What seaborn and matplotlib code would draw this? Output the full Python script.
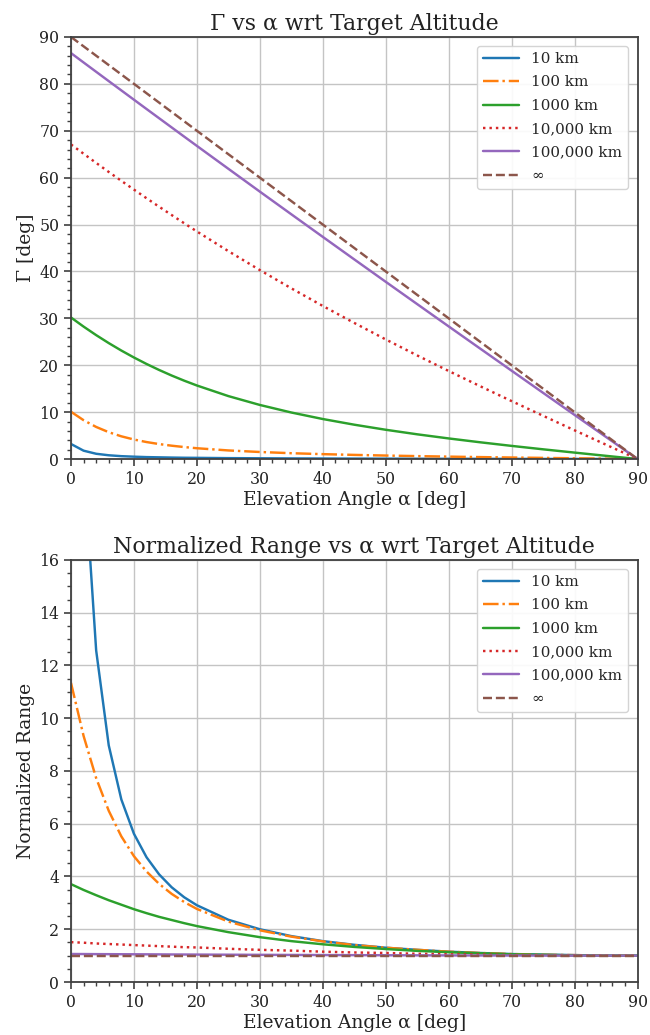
import matplotlib
matplotlib.use("Agg")
import matplotlib.pyplot as plt
from matplotlib.ticker import AutoMinorLocator, MultipleLocator
import seaborn as sns
import pandas as pd

# ---- data ----
alpha = [0, 2, 4, 6, 8, 10, 12, 14, 16, 18, 20, 25, 30, 35, 40, 45, 50, 55, 60,
         65, 70, 75, 80, 85, 90]

labels = ["10 km", "100 km", "1000 km", "10,000 km", "100,000 km", "\u221e"]

gamma_10 = [3.21, 1.78, 1.12, 0.80, 0.61, 0.50, 0.41, 0.36, 0.31, 0.27, 0.25, 0.19,
            0.16, 0.13, 0.11, 0.09, 0.08, 0.06, 0.05, 0.04, 0.03, 0.02, 0.02, 0.01, 0.0]
gamma_100 = [10.08, 8.28, 6.84, 5.72, 4.84, 4.16, 3.62, 3.19, 2.84, 2.55, 2.30, 1.83,
             1.50, 1.24, 1.04, 0.88, 0.74, 0.62, 0.51, 0.41, 0.32, 0.24, 0.16, 0.08, 0.0]
gamma_1000 = [30.18, 28.24, 26.42, 24.72, 23.13, 21.65, 20.27, 18.99, 17.80, 16.70,
              15.68, 13.42, 11.53, 9.92, 8.53, 7.32, 6.24, 5.27, 4.39, 3.57, 2.80,
              2.07, 1.37, 0.68, 0.0]
gamma_10000 = [67.08, 65.10, 63.14, 61.21, 59.32, 57.45, 55.61, 53.80, 52.02, 50.26,
               48.53, 44.33, 40.29, 36.40, 32.64, 29.02, 25.50, 22.09, 18.77, 15.53,
               12.35, 9.22, 6.12, 3.05, 0.0]
gamma_100000 = [86.56, 84.56, 82.57, 80.58, 78.60, 76.62, 74.64, 72.67, 70.70, 68.73,
                66.77, 61.89, 57.02, 52.19, 47.37, 42.57, 37.79, 33.03, 28.28, 23.55,
                18.83, 14.11, 9.40, 4.70, 0.0]
gamma_inf = [90, 88, 86, 84, 82, 80, 78, 76, 74, 72, 70, 65, 60, 55, 50, 45, 40, 35,
             30, 25, 20, 15, 10, 5, 0]

range_10 = [35.73, 19.84, 12.57, 8.97, 6.92, 5.62, 4.73, 4.08, 3.59, 3.21, 2.91, 2.36,
            2.00, 1.74, 1.55, 1.41, 1.30, 1.22, 1.15, 1.10, 1.06, 1.04, 1.02, 1.00, 1.0]
range_100 = [11.34, 9.33, 7.73, 6.49, 5.52, 4.77, 4.19, 3.72, 3.34, 3.03, 2.77, 2.29,
             1.96, 1.72, 1.54, 1.40, 1.30, 1.22, 1.15, 1.10, 1.06, 1.03, 1.02, 1.00, 1.0]
range_1000 = [3.71, 3.49, 3.29, 3.10, 2.93, 2.76, 2.61, 2.47, 2.35, 2.23, 2.12, 1.89,
              1.70, 1.55, 1.43, 1.33, 1.25, 1.18, 1.13, 1.09, 1.05, 1.03, 1.01, 1.00, 1.0]
range_10000 = [1.51, 1.49, 1.46, 1.44, 1.42, 1.40, 1.38, 1.36, 1.34, 1.32, 1.31, 1.26,
               1.22, 1.19, 1.15, 1.12, 1.10, 1.07, 1.05, 1.04, 1.02, 1.01, 1.01, 1.00, 1.0]
range_100000 = [1.062, 1.060, 1.057, 1.055, 1.053, 1.051, 1.049, 1.047, 1.044, 1.042,
                1.040, 1.035, 1.030, 1.026, 1.022, 1.018, 1.014, 1.011, 1.008, 1.006,
                1.004, 1.002, 1.001, 1.000, 1.0]
range_inf = [1.0, 1.0, 1.0, 1.0, 1.0, 1.0, 1.0, 1.0, 1.0, 1.0, 1.0, 1.0, 1.0, 1.0,
             1.0, 1.0, 1.0, 1.0, 1.0, 1.0, 1.0, 1.0, 1.0, 1.0, 1.0]

gamma_series = [gamma_10, gamma_100, gamma_1000, gamma_10000, gamma_100000, gamma_inf]
range_series = [range_10, range_100, range_1000, range_10000, range_100000, range_inf]

colors = ["#1f77b4", "#ff7f0e", "#2ca02c", "#d62728", "#9467bd", "#8c564b"]
styles = ["-", "-.", "-", ":", "-", "--"]

# ---- style ----
sns.set_style("ticks")
plt.rcParams["font.family"] = ["DejaVu Serif", "DejaVu Sans"]
plt.rcParams["mathtext.fontset"] = "dejavuserif"

fig = plt.figure(figsize=(6.5, 10.35), dpi=100)
ax1 = fig.add_axes([0.1092, 0.5565, 0.8716, 0.4078])
ax2 = fig.add_axes([0.1092, 0.0512, 0.8716, 0.4078])

spine_col = "#404040"


def style_axes(ax, ymax, ymajor, yminor_n, title, ylabel):
    ax.set_xlim(0, 90)
    ax.set_ylim(0, ymax)
    ax.xaxis.set_major_locator(MultipleLocator(10))
    ax.yaxis.set_major_locator(MultipleLocator(ymajor))
    ax.xaxis.set_minor_locator(AutoMinorLocator(5))
    ax.yaxis.set_minor_locator(AutoMinorLocator(yminor_n))
    ax.grid(True, which="major", color="#c4c4c4", linewidth=1.0)
    ax.set_axisbelow(True)
    for sp in ax.spines.values():
        sp.set_visible(True)
        sp.set_color(spine_col)
        sp.set_linewidth(1.3)
    ax.tick_params(which="major", direction="out", length=5, width=1.2,
                   color=spine_col, labelsize=11.3, labelcolor="#222222")
    ax.tick_params(which="minor", direction="out", length=3, width=1.0,
                   color=spine_col)
    ax.set_title(title, fontsize=15.8, color="#222222", pad=5)
    ax.set_xlabel("Elevation Angle \u03b1 [deg]", fontsize=13.5, color="#222222",
                  labelpad=2)
    ax.set_ylabel(ylabel, fontsize=13.5, color="#222222", labelpad=3)
    leg = ax.legend(loc="upper right", fontsize=10.9, handlelength=2.4,
                    labelspacing=0.62, frameon=True, fancybox=True,
                    borderaxespad=0.6)
    leg.get_frame().set_edgecolor("#d0d0d0")
    leg.get_frame().set_alpha(0.9)


for lab, ys, c, ls in zip(labels, gamma_series, colors, styles):
    df = pd.DataFrame({"alpha": alpha, "val": ys})
    sns.lineplot(data=df, x="alpha", y="val", ax=ax1, color=c, linestyle=ls,
                 linewidth=1.75, label=lab, estimator=None, sort=True)

for lab, ys, c, ls in zip(labels, range_series, colors, styles):
    df = pd.DataFrame({"alpha": alpha, "val": ys})
    sns.lineplot(data=df, x="alpha", y="val", ax=ax2, color=c, linestyle=ls,
                 linewidth=1.75, label=lab, estimator=None, sort=True)

style_axes(ax1, 90, 10, 5, "\u0393 vs \u03b1 wrt Target Altitude", "\u0393 [deg]")
style_axes(ax2, 16, 2, 4, "Normalized Range vs \u03b1 wrt Target Altitude",
           "Normalized Range")

fig.savefig("out.png", dpi=100)
